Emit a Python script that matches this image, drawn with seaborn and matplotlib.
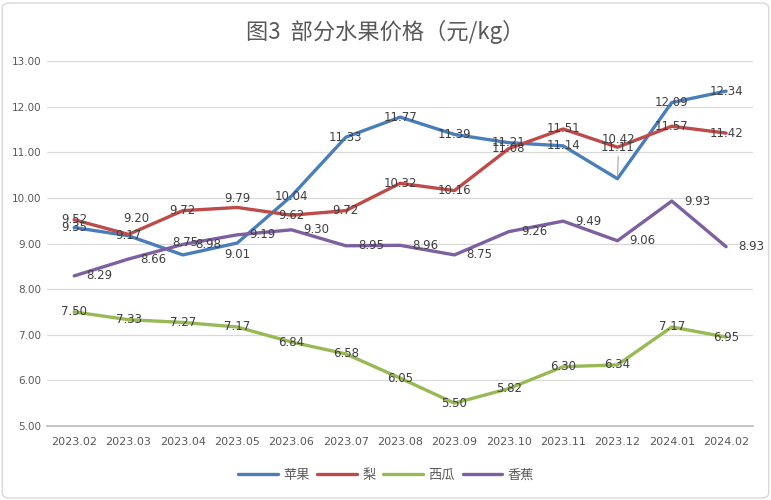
"""
图3 部分水果价格折线图 (seaborn)
"""

import matplotlib
matplotlib.use("Agg")
import matplotlib.pyplot as plt
from matplotlib.patches import FancyBboxPatch
import pandas as pd
import seaborn as sns

months = ["2023.02", "2023.03", "2023.04", "2023.05", "2023.06", "2023.07", "2023.08",
          "2023.09", "2023.10", "2023.11", "2023.12", "2024.01", "2024.02"]
apple = [9.35, 9.17, 8.75, 9.01, 10.04, 11.33, 11.77, 11.39, 11.21, 11.14, 10.42, 12.09, 12.34]
pear = [9.52, 9.20, 9.72, 9.79, 9.62, 9.72, 10.32, 10.16, 11.08, 11.51, 11.11, 11.57, 11.42]
melon = [7.50, 7.33, 7.27, 7.17, 6.84, 6.58, 6.05, 5.50, 5.82, 6.30, 6.34, 7.17, 6.95]
banana = [8.29, 8.66, 8.98, 9.19, 9.30, 8.95, 8.96, 8.75, 9.26, 9.49, 9.06, 9.93, 8.93]
fruits = ["苹果", "梨", "西瓜", "香蕉"]

colors = ["#4A7EBB", "#BE4B48", "#98B954", "#7D60A0"]

sns.set_theme(style="white")
plt.rcParams["font.family"] = ["Noto Sans CJK SC", "DejaVu Sans"]

rows = []
for name, vals in zip(fruits, [apple, pear, melon, banana]):
    for i, v in enumerate(vals):
        rows.append({"月份": i, "价格": v, "水果": name})
df = pd.DataFrame(rows)

fig = plt.figure(figsize=(7.71, 5.0), dpi=100)
ax = fig.add_axes([0.061, 0.148, 0.916, 0.730])

sns.lineplot(data=df, x="月份", y="价格", hue="水果", palette=colors,
             linewidth=2.4, ax=ax, legend=True)

# 数据标签
txt = dict(fontsize=8.5, color="#404040", family="DejaVu Sans")
# 个别标签的偏移 (像素)
shift = {("苹果", 2): (2, 12), ("苹果", 3): (0, -11), ("梨", 1): (8, 16),
         ("梨", 3): (0, 9)}
for name, vals in zip(fruits, [apple, pear, melon, banana]):
    for i, v in enumerate(vals):
        if name == "苹果" and i == 10:
            ax.annotate(f"{v:.2f}", xy=(i, v), xytext=(1, 28), textcoords="offset points",
                        ha="center", va="center",
                        arrowprops=dict(arrowstyle="-", color="#A6A6A6", lw=0.8,
                                        shrinkA=5, shrinkB=2), **txt)
            continue
        if name == "香蕉":
            dx, dy, ha = 12, 0, "left"
        else:
            dx, dy = shift.get((name, i), (0, 0))
            ha = "center"
        ax.annotate(f"{v:.2f}", xy=(i, v), xytext=(dx * 0.72, dy * 0.72),
                    textcoords="offset points", ha=ha, va="center", **txt)

ax.set_ylim(5, 13)
ax.set_yticks(range(5, 14))
ax.set_yticklabels([f"{t:.2f}" for t in range(5, 14)], fontsize=7.5, color="#595959",
                   family="DejaVu Sans")
ax.set_xlim(-0.5, 12.5)
ax.set_xticks(range(13))
ax.set_xticklabels(months, fontsize=8, color="#595959", family="DejaVu Sans")
ax.set_xticks([i - 0.5 for i in range(14)], minor=True)
ax.tick_params(axis="x", which="major", length=0, pad=8)
ax.tick_params(axis="x", which="minor", length=5, color="#BFBFBF", width=0.8)
ax.tick_params(axis="y", length=0, pad=4)
ax.grid(axis="y", color="#D9D9D9", linewidth=0.9)
ax.set_axisbelow(True)
for s in ["left", "right", "top"]:
    ax.spines[s].set_visible(False)
ax.spines["bottom"].set_color("#BFBFBF")
ax.set_xlabel("")
ax.set_ylabel("")

ax.legend(handles=ax.get_legend().legend_handles, labels=fruits, loc="upper center",
          bbox_to_anchor=(0.48, -0.085), ncol=4, frameon=False, fontsize=9.5,
          handlelength=3.0, handletextpad=0.4, columnspacing=0.6,
          labelcolor="#595959")

fig.suptitle("图3  部分水果价格（元/kg）", y=0.96, fontsize=16, color="#595959")

fig.patches.append(FancyBboxPatch((0.003, 0.004), 0.994, 0.99, transform=fig.transFigure,
                                  boxstyle="round,pad=0,rounding_size=0.01",
                                  fc="none", ec="#D9D9D9", lw=1))

fig.savefig("out.png", dpi=100)
